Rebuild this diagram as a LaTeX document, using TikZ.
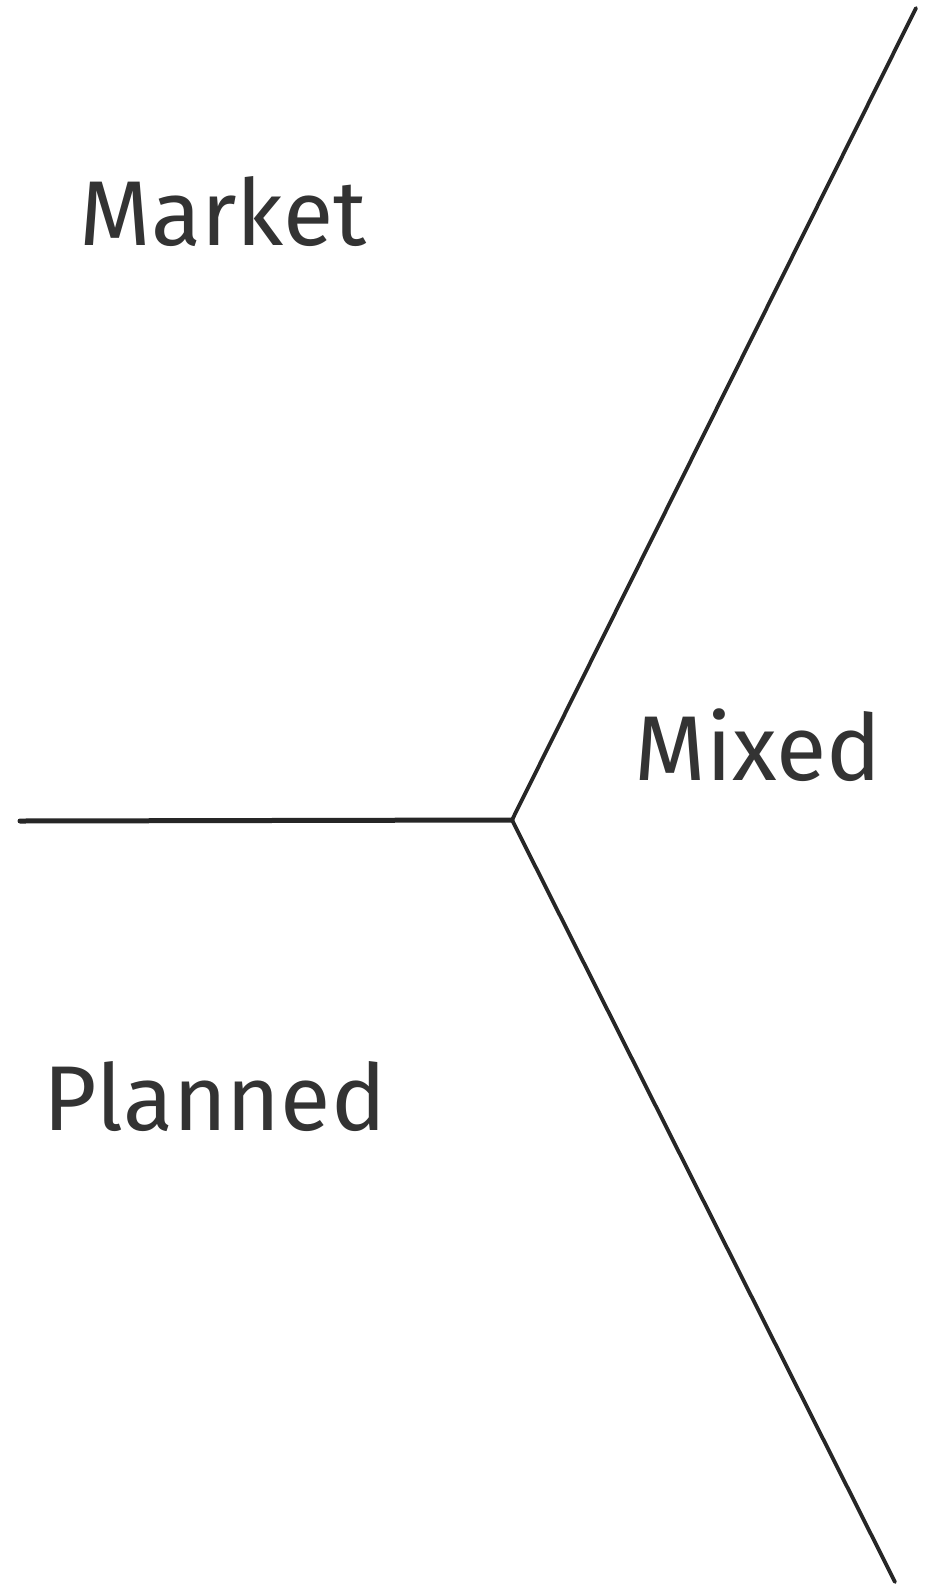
\documentclass[tikz,border=0pt]{standalone}
\usepackage{fontspec}
\setmainfont{Fira Sans}
\usetikzlibrary{positioning}
\tikzset{
  region/.style={font=\fontsize{92}{110}\selectfont, text=black!80, inner sep=0pt},
  border/.style={black!85, line width=3.8pt, line cap=round},
}

\begin{document}
\begin{tikzpicture}[x=1pt,y=-1pt]
\useasboundingbox[fill=white] (0,0) rectangle (931,1585);
\coordinate (hub) at (512,820);
\coordinate (west) at (20,821);
\coordinate (north) at (916,8);
\coordinate (south) at (895,1582);
\draw[border, line width=5pt] (west) -- (hub);
\draw[border] (hub) -- (north);
\draw[border] (hub) -- (south);
\node[region] (market) at (223,212) {Market};
\node[region] (mixed) at (758,745) {Mixed};
\node[region] (planned) at (215,1097) {Planned};
\end{tikzpicture}
\end{document}
